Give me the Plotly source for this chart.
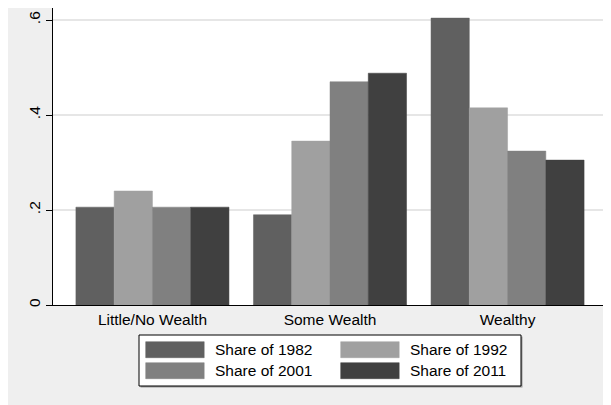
import plotly.graph_objects as go

# ---- data ----
categories = ["Little/No Wealth", "Some Wealth", "Wealthy"]
series_names = ["Share of 1982", "Share of 1992", "Share of 2001", "Share of 2011"]
share_1982 = [0.206, 0.190, 0.604]
share_1992 = [0.240, 0.345, 0.415]
share_2001 = [0.206, 0.470, 0.324]
share_2011 = [0.206, 0.488, 0.305]
y_tick_vals = [0, 0.2, 0.4, 0.6]
y_tick_text = ["0", ".2", ".4", ".6"]

series_values = [share_1982, share_1992, share_2001, share_2011]
colors = ["#606060", "#a0a0a0", "#808080", "#404040"]

# page has an 8px body margin; figure sits at (8, 8)
OFF = 8
W, H = 603, 397
L, R, T, B = 45, 4, 0, 100
pw = W - L - R
ph = H - T - B
FONT = "Liberation Sans, Arial, sans-serif"
FS = 15.5


def px(x):  # page x -> paper
    return (x - OFF - L) / pw


def py(y):  # page y -> paper
    return (H - B - (y - OFF)) / ph


fig = go.Figure()
for name, vals, col in zip(series_names, series_values, colors):
    fig.add_trace(go.Bar(
        x=categories, y=vals, name=name,
        marker=dict(color=col, line=dict(color=col, width=0.5)),
        showlegend=False,
    ))

shapes = []
annotations = []

# legend box (manual, Stata style)
box_x0, box_x1, box_y0, box_y1 = 139, 521, 335, 386
shapes.append(dict(type="rect", xref="paper", yref="paper",
                   x0=px(box_x0 + 1.5), x1=px(box_x1 + 1.5),
                   y0=py(box_y1 + 1.5), y1=py(box_y0 + 1.5),
                   fillcolor="#9a9a9a", line=dict(width=0)))
shapes.append(dict(type="rect", xref="paper", yref="paper",
                   x0=px(box_x0), x1=px(box_x1), y0=py(box_y1), y1=py(box_y0),
                   fillcolor="white", line=dict(color="black", width=1)))

col_x = [145.7, 340.7]
row_y = [341.7, 362.7]
sw_w, sw_h = 58.5, 16
for i, (name, col) in enumerate(zip(series_names, colors)):
    r, c = divmod(i, 2)
    x0 = col_x[c]
    y0 = row_y[r]
    shapes.append(dict(type="rect", xref="paper", yref="paper",
                       x0=px(x0), x1=px(x0 + sw_w), y0=py(y0 + sw_h), y1=py(y0),
                       fillcolor=col, line=dict(color=col, width=0.5)))
    annotations.append(dict(xref="paper", yref="paper",
                            x=px(x0 + sw_w + 9), y=py(y0 + sw_h / 2),
                            text=name, showarrow=False,
                            xanchor="left", yanchor="middle",
                            font=dict(family=FONT, size=FS, color="black")))

fig.update_layout(
    width=W, height=H,
    margin=dict(l=L, r=R, t=T, b=B, pad=0, autoexpand=False),
    paper_bgcolor="#efefef",
    plot_bgcolor="white",
    barmode="group",
    bargap=0.138,
    bargroupgap=0,
    showlegend=False,
    font=dict(family=FONT, size=FS, color="black"),
    shapes=shapes,
    annotations=annotations,
    xaxis=dict(
        type="category", range=[-0.56, 2.56],
        showline=True, linecolor="black", linewidth=1,
        ticks="", showgrid=False, zeroline=False,
        tickfont=dict(family=FONT, size=FS, color="black"),
        fixedrange=True,
    ),
    yaxis=dict(
        range=[0, 0.62526],
        tickvals=y_tick_vals, ticktext=y_tick_text,
        tickangle=-90,
        ticks="outside", ticklen=6, tickcolor="black", tickwidth=1,
        showline=True, linecolor="black", linewidth=1,
        showgrid=True, gridcolor="#e6e6e6", gridwidth=1.5,
        zeroline=False,
        tickfont=dict(family=FONT, size=FS, color="black"),
        fixedrange=True,
    ),
)

fig.write_html("out.html")
